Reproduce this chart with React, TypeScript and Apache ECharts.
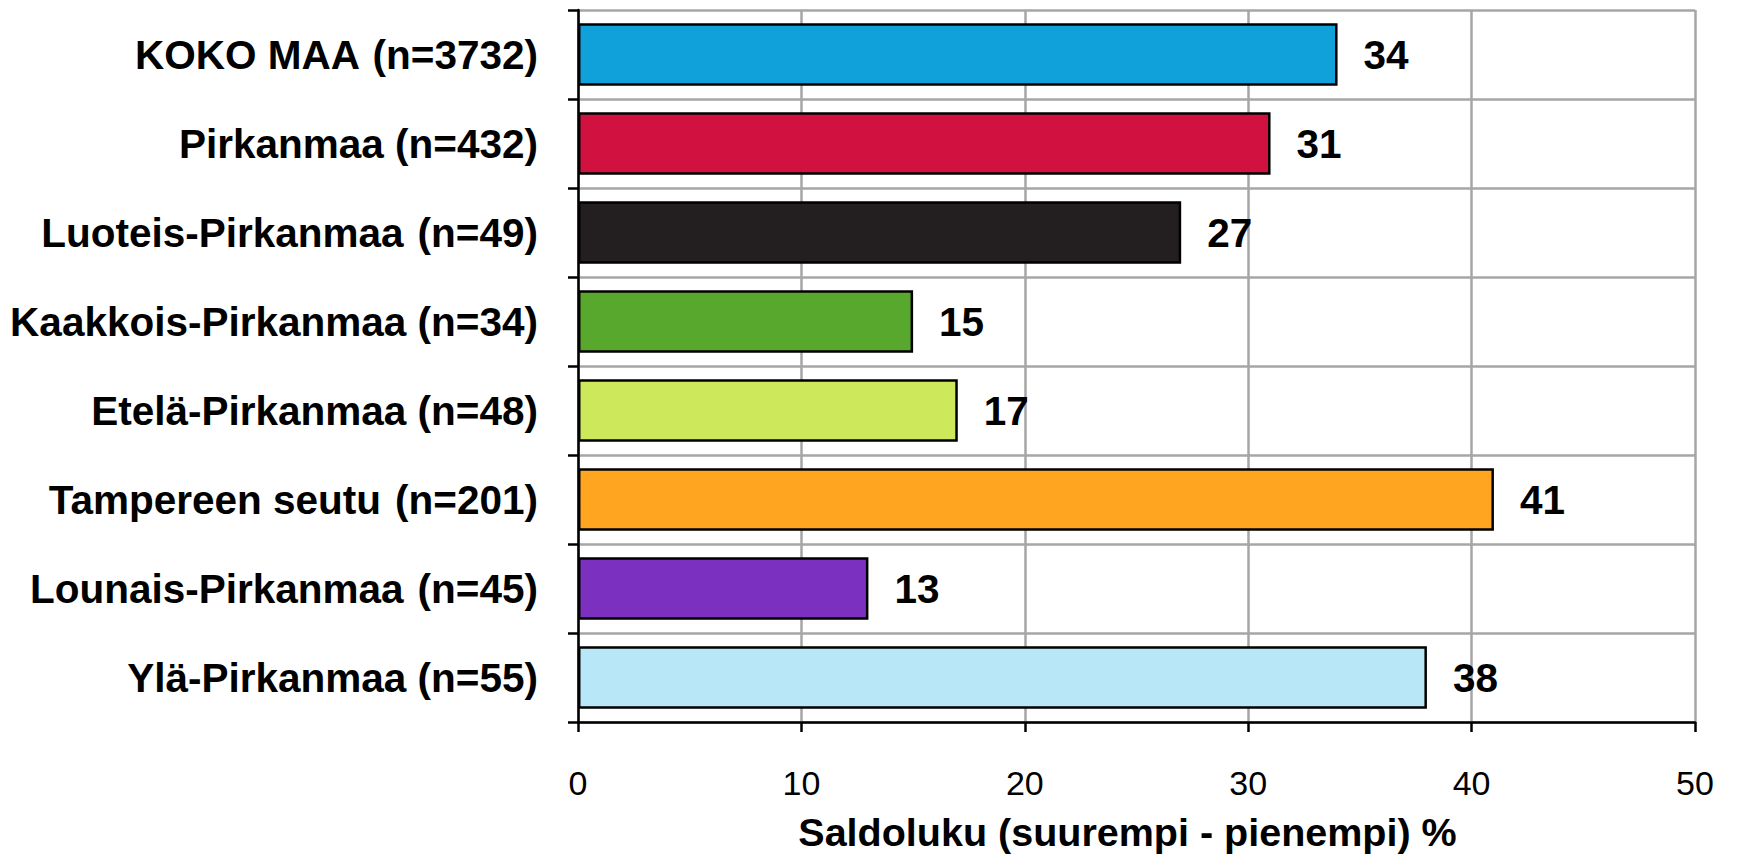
import React, { useEffect, useRef } from "react";
import * as echarts from "echarts";

const categories = [
  "KOKO MAA  (n=3732)",
  "Pirkanmaa (n=432)",
  "Luoteis-Pirkanmaa  (n=49)",
  "Kaakkois-Pirkanmaa (n=34)",
  "Etelä-Pirkanmaa (n=48)",
  "Tampereen seutu  (n=201)",
  "Lounais-Pirkanmaa  (n=45)",
  "Ylä-Pirkanmaa (n=55)",
];
const values = [34, 31, 27, 15, 17, 41, 13, 38];
const barColors = [
  "#10A0DA",
  "#D11241",
  "#231F20",
  "#58A82E",
  "#CDE85A",
  "#FFA520",
  "#7B30C0",
  "#B8E7F8",
];
const xTicks = [0, 10, 20, 30, 40, 50];
const xTitle = "Saldoluku (suurempi - pienempi) %";

export default function App() {
  const ref = useRef<HTMLDivElement>(null);
  useEffect(() => {
    if (!ref.current) return;
    const chart = echarts.init(ref.current, null, { renderer: "svg" });
    const font = "'Liberation Sans', Arial, sans-serif";
    chart.setOption({
      animation: false,
      backgroundColor: "#ffffff",
      grid: { left: 578, right: 42, top: 10, bottom: 131, containLabel: false },
      xAxis: {
        type: "value",
        min: xTicks[0],
        max: xTicks[xTicks.length - 1],
        interval: 10,
        axisLine: { show: true, lineStyle: { color: "#000", width: 2.5 } },
        axisTick: { show: true, length: 10, lineStyle: { color: "#000", width: 2.5 } },
        axisLabel: {
          margin: 44,
          color: "#000",
          fontSize: 34,
          fontFamily: font,
        },
        splitLine: { show: true, lineStyle: { color: "#A6A6A6", width: 2.5 } },
        name: xTitle,
        nameLocation: "middle",
        nameGap: 90,
        nameTextStyle: {
          color: "#000",
          fontSize: 39.5,
          fontWeight: "bold",
          fontFamily: font,
          verticalAlign: "top",
          padding: [0, 18, 0, 0],
        },
      },
      yAxis: {
        type: "category",
        inverse: true,
        data: categories,
        axisLine: { show: true, lineStyle: { color: "#000", width: 2.5 } },
        axisTick: { show: true, length: 10, lineStyle: { color: "#000", width: 2.5 } },
        axisLabel: {
          margin: 40,
          color: "#000",
          fontSize: 40.5,
          fontWeight: "bold",
          fontFamily: font,
          formatter: (v: string) => v.replace("  ", " {s| }"),
          rich: {
            s: {
              fontSize: 10,
              fontWeight: "bold",
              fontFamily: font,
              color: "#000",
            },
          },
        },
        splitLine: { show: true, lineStyle: { color: "#A6A6A6", width: 2.5 } },
      },
      series: [
        {
          type: "bar",
          barWidth: "70%",
          data: values.map((v, i) => ({
            value: v,
            itemStyle: { color: barColors[i], borderColor: "#000", borderWidth: 2.5 },
          })),
          label: {
            show: true,
            position: "right",
            distance: 26,
            color: "#000",
            fontSize: 40.5,
            fontWeight: "bold",
            fontFamily: font,
          },
        },
      ],
    });
    return () => chart.dispose();
  }, []);
  return (
    <div
      ref={ref}
      style={{ position: "fixed", left: 0, top: 0, width: 1737, height: 857 }}
    />
  );
}
